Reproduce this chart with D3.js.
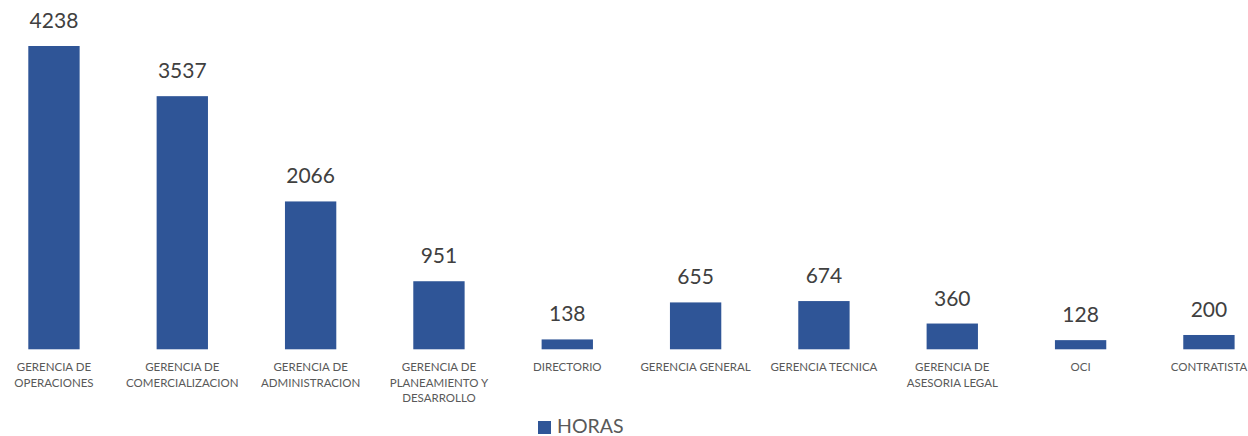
<!DOCTYPE html>
<html><head><meta charset="utf-8">
<script src="https://cdn.jsdelivr.net/npm/d3@7"></script>
<style>body{margin:0;background:#fff}svg{display:block}</style>
</head><body>
<svg id="chart" width="1248" height="436"></svg>
<script>
const categories = [
  "GERENCIA DE\nOPERACIONES",
  "GERENCIA DE\nCOMERCIALIZACION",
  "GERENCIA DE\nADMINISTRACION",
  "GERENCIA DE\nPLANEAMIENTO Y\nDESARROLLO",
  "DIRECTORIO",
  "GERENCIA GENERAL",
  "GERENCIA TECNICA",
  "GERENCIA DE\nASESORIA LEGAL",
  "OCI",
  "CONTRATISTA"
];
const horas = [4238, 3537, 2066, 951, 138, 655, 674, 360, 128, 200];
const seriesName = "HORAS";

const svg = d3.select("#chart");
const font = "Lato, 'Open Sans', sans-serif";
const barColor = "#2F5597";
const baseline = 349.3;
const topY = 46;

const x = d3.scaleBand().domain(d3.range(categories.length))
  .range([-10.2, 1273.1]).paddingInner(0.6).paddingOuter(0.3);
const y = d3.scaleLinear().domain([0, 4238]).range([baseline, topY]);

svg.selectAll("rect.bar").data(horas).join("rect")
  .attr("class", "bar")
  .attr("x", (d, i) => x(i))
  .attr("width", x.bandwidth())
  .attr("y", d => y(d))
  .attr("height", d => baseline - y(d))
  .attr("fill", barColor);

svg.selectAll("text.val").data(horas).join("text")
  .attr("class", "val")
  .attr("x", (d, i) => x(i) + x.bandwidth() / 2)
  .attr("y", d => y(d) - 18)
  .attr("text-anchor", "middle")
  .attr("font-family", font)
  .attr("font-size", 21)
  .attr("fill", "#404040")
  .text(d => d);

const labels = svg.selectAll("text.cat").data(categories).join("text")
  .attr("class", "cat")
  .attr("text-anchor", "middle")
  .attr("font-family", font)
  .attr("font-size", 11.5)
  .attr("fill", "#595959");
labels.each(function(d, i) {
  const t = d3.select(this);
  d.split("\n").forEach((line, j) => {
    t.append("tspan")
      .attr("x", x(i) + x.bandwidth() / 2)
      .attr("y", 371 + j * 15.6)
      .text(line);
  });
});

const legend = svg.append("g");
legend.append("rect").attr("x", 538).attr("y", 421).attr("width", 13).attr("height", 13).attr("fill", barColor);
legend.append("text").attr("x", 557).attr("y", 433).attr("font-family", font)
  .attr("font-size", 19.5).attr("fill", "#595959").text(seriesName);
</script>
</body></html>
